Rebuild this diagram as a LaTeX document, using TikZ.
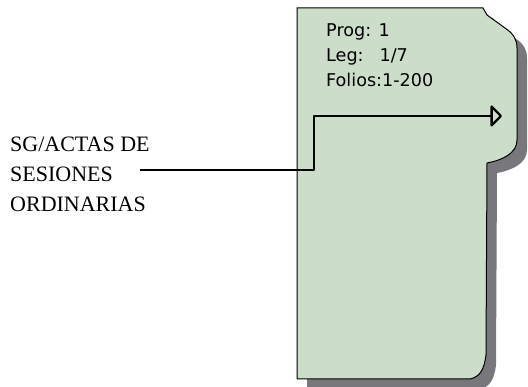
\documentclass[tikz,border=0pt]{standalone}
\usepackage{fontspec}
\setmainfont{Liberation Serif}
\newfontfamily\tabfont{DejaVu Sans}
\usetikzlibrary{arrows.meta, positioning}
\definecolor{folderfill}{RGB}{204,222,202}
\definecolor{foldershade}{RGB}{120,120,124}

\begin{document}
\begin{tikzpicture}[x=1pt, y=-1pt,
  label/.style={anchor=base west, inner sep=0pt, align=left, font=\fontsize{22}{30}\selectfont},
  info/.style={anchor=base west, inner sep=0pt, align=left, font=\tabfont\fontsize{17.6}{25}\selectfont},
  link/.style={line width=2.3pt, line join=round, -{Triangle[open, length=12pt, width=24pt, line join=round]}}]
  \useasboundingbox (0,0) rectangle (528,387);

  % Folder outline
  \def\folder{(297,8) -- (483,8) -- (487,15) -- (505,28) .. controls (514,34) and (517,40) .. (517,48)
    -- (517,140) .. controls (517,153) and (503,160) .. (487,163)
    -- (486,355) .. controls (484,371) and (479,377) .. (470,379) -- (297,379) -- cycle}
  \fill[foldershade, shift={(10,10)}] \folder;
  \draw[fill=folderfill, line width=1pt] \folder;

  %Define nodes (base is the last line)
  \node[info] (prog) at (326,87) {Prog: 1\\Leg:\hspace{16pt}1/7\\Folios:1-200};
  \node[label] (serie) at (10,212) {SG/ACTAS DE\\SESIONES\\ORDINARIAS};
  \coordinate (start) at (140,170);
  \coordinate (bend) at (314,116);
  \coordinate (tip) at (502,116);

  % Connect the nodes
  \draw[link] (start) -| (bend) -- (tip);

\end{tikzpicture}
\end{document}
